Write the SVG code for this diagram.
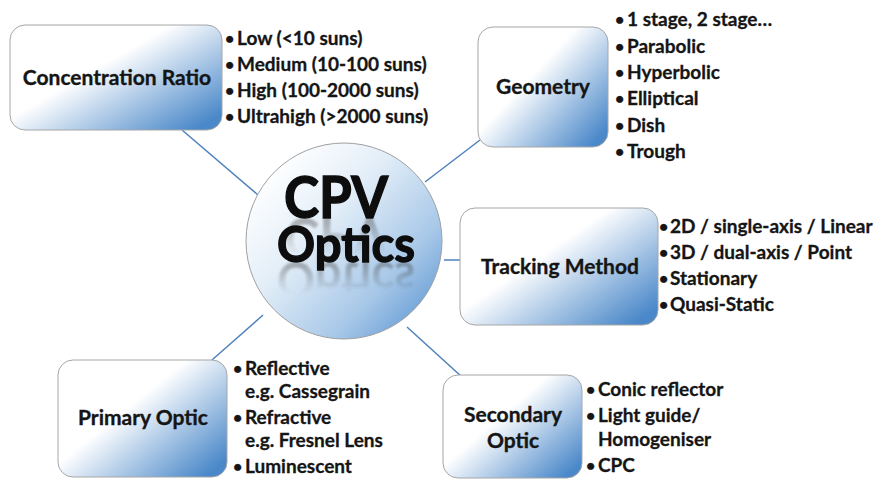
<svg xmlns="http://www.w3.org/2000/svg" width="877" height="479" viewBox="0 0 877 479">
  <style>
    .box { stroke: #a6a6a6; stroke-width: 1; fill: url(#boxFill); }
    .label { font-family: Lato, "Open Sans", "Liberation Sans", sans-serif; font-weight: bold; font-size: 21px; fill: #151515; stroke: #151515; stroke-width: 0.35; text-anchor: middle; }
    .item { font-family: Lato, "Open Sans", "Liberation Sans", sans-serif; font-weight: bold; font-size: 19px; fill: #151515; stroke: #151515; stroke-width: 0.3; }
    .dot { font-size: 16px; }
    .big { font-family: Lato, "Open Sans", "Liberation Sans", sans-serif; font-weight: bold; fill: #0d0d0d; stroke: #0d0d0d; stroke-width: 1.4; text-anchor: middle; }
    .refl { font-family: Lato, "Open Sans", "Liberation Sans", sans-serif; font-weight: bold; fill: url(#reflFade); text-anchor: middle; }
    .link { stroke: #4f81bd; stroke-width: 1.5; fill: none; }
  </style>
  <defs>
    <linearGradient id="boxFill" x1="0.3" y1="0.25" x2="1" y2="0.85">
      <stop offset="0" stop-color="#ffffff"/>
      <stop offset="0.2" stop-color="#ffffff"/>
      <stop offset="1" stop-color="#4a88c9"/>
    </linearGradient>
    <linearGradient id="ballFill" x1="0.15" y1="0.1" x2="0.95" y2="0.85">
      <stop offset="0" stop-color="#ffffff"/>
      <stop offset="0.35" stop-color="#e3eef8"/>
      <stop offset="0.75" stop-color="#a8c8e8"/>
      <stop offset="1" stop-color="#6a9fd6"/>
    </linearGradient>
    <linearGradient id="reflFade" x1="0" y1="0" x2="0" y2="1">
      <stop offset="0.3" stop-color="#404040" stop-opacity="0"/>
      <stop offset="1" stop-color="#404040" stop-opacity="0.55"/>
    </linearGradient>
    <filter id="soft" x="-10%" y="-10%" width="120%" height="120%">
      <feGaussianBlur stdDeviation="0.8"/>
    </filter>
  </defs>

  <!-- connectors between hub and topic boxes -->
  <g id="connectors">
    <line class="link" x1="182" y1="130" x2="258" y2="195"/>
    <line class="link" x1="480" y1="140" x2="425" y2="182"/>
    <line class="link" x1="444" y1="260" x2="460" y2="260"/>
    <line class="link" x1="212" y1="360" x2="263" y2="315"/>
    <line class="link" x1="407" y1="327" x2="462" y2="377"/>
  </g>

  <!-- central hub -->
  <g id="hub">
    <circle cx="344" cy="241" r="98" fill="url(#ballFill)" stroke="#a0a0a0" stroke-width="1"/>
    <text class="refl" x="336" y="218" font-size="57" textLength="104" lengthAdjust="spacingAndGlyphs" transform="translate(0,436) scale(1,-1)" filter="url(#soft)">CPV</text>
    <text class="big" x="336" y="218" font-size="57" textLength="104" lengthAdjust="spacingAndGlyphs">CPV</text>
    <text class="refl" x="346" y="262" font-size="50" textLength="138" lengthAdjust="spacingAndGlyphs" transform="translate(0,524) scale(1,-1)" filter="url(#soft)">Optics</text>
    <text class="big" x="346" y="262" font-size="50" textLength="138" lengthAdjust="spacingAndGlyphs">Optics</text>
  </g>

  <!-- Concentration Ratio -->
  <g id="concentration-ratio">
    <rect class="box" x="10" y="25" width="212" height="105" rx="15"/>
    <text class="label" x="117" y="85">Concentration Ratio</text>
    <text class="item"><tspan class="dot" x="225" y="44">•</tspan><tspan x="237" y="45">Low (&lt;10 suns)</tspan></text>
    <text class="item"><tspan class="dot" x="225" y="70">•</tspan><tspan x="237" y="71">Medium (10-100 suns)</tspan></text>
    <text class="item"><tspan class="dot" x="225" y="96">•</tspan><tspan x="237" y="97">High (100-2000 suns)</tspan></text>
    <text class="item"><tspan class="dot" x="225" y="122">•</tspan><tspan x="237" y="123">Ultrahigh (&gt;2000 suns)</tspan></text>
  </g>

  <!-- Geometry -->
  <g id="geometry">
    <rect class="box" x="478" y="27" width="130" height="120" rx="15"/>
    <text class="label" x="543" y="94">Geometry</text>
    <text class="item"><tspan class="dot" x="615" y="25">•</tspan><tspan x="627" y="26">1 stage, 2 stage…</tspan></text>
    <text class="item"><tspan class="dot" x="615" y="52">•</tspan><tspan x="627" y="53">Parabolic</tspan></text>
    <text class="item"><tspan class="dot" x="615" y="78">•</tspan><tspan x="627" y="79">Hyperbolic</tspan></text>
    <text class="item"><tspan class="dot" x="615" y="104">•</tspan><tspan x="627" y="105">Elliptical</tspan></text>
    <text class="item"><tspan class="dot" x="615" y="131">•</tspan><tspan x="627" y="132">Dish</tspan></text>
    <text class="item"><tspan class="dot" x="615" y="157">•</tspan><tspan x="627" y="158">Trough</tspan></text>
  </g>

  <!-- Tracking Method -->
  <g id="tracking-method">
    <rect class="box" x="460" y="208" width="198" height="117" rx="15"/>
    <text class="label" x="560" y="274">Tracking Method</text>
    <text class="item"><tspan class="dot" x="659" y="232">•</tspan><tspan x="670" y="233">2D / single-axis / Linear</tspan></text>
    <text class="item"><tspan class="dot" x="659" y="258">•</tspan><tspan x="670" y="259">3D / dual-axis / Point</tspan></text>
    <text class="item"><tspan class="dot" x="659" y="284">•</tspan><tspan x="670" y="285">Stationary</tspan></text>
    <text class="item"><tspan class="dot" x="659" y="310">•</tspan><tspan x="670" y="311">Quasi-Static</tspan></text>
  </g>

  <!-- Primary Optic -->
  <g id="primary-optic">
    <rect class="box" x="58" y="360" width="169" height="117" rx="15"/>
    <text class="label" x="143" y="425">Primary Optic</text>
    <text class="item"><tspan class="dot" x="233" y="374">•</tspan><tspan x="245" y="375">Reflective</tspan></text>
    <text class="item"><tspan x="245" y="398">e.g. Cassegrain</tspan></text>
    <text class="item"><tspan class="dot" x="233" y="423">•</tspan><tspan x="245" y="424">Refractive</tspan></text>
    <text class="item"><tspan x="245" y="447">e.g. Fresnel Lens</tspan></text>
    <text class="item"><tspan class="dot" x="233" y="472">•</tspan><tspan x="245" y="473">Luminescent</tspan></text>
  </g>

  <!-- Secondary Optic -->
  <g id="secondary-optic">
    <rect class="box" x="443" y="375" width="139" height="103" rx="15"/>
    <text class="label" x="513" y="422">Secondary</text>
    <text class="label" x="513" y="448">Optic</text>
    <text class="item"><tspan class="dot" x="586" y="395">•</tspan><tspan x="598" y="396">Conic reflector</tspan></text>
    <text class="item"><tspan class="dot" x="586" y="421">•</tspan><tspan x="598" y="422">Light guide/</tspan></text>
    <text class="item"><tspan x="598" y="446">Homogeniser</tspan></text>
    <text class="item"><tspan class="dot" x="586" y="471">•</tspan><tspan x="598" y="472">CPC</tspan></text>
  </g>
</svg>
